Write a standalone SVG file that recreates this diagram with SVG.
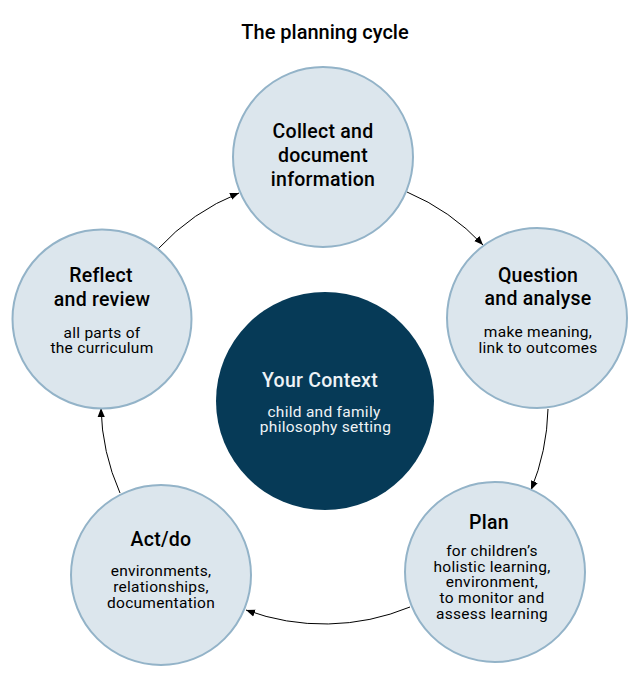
<svg xmlns="http://www.w3.org/2000/svg" width="641" height="696" viewBox="0 0 641 696">
<defs>
<marker id="arr" viewBox="0 0 10 10" refX="10" refY="5" markerWidth="9" markerHeight="9" markerUnits="userSpaceOnUse" orient="auto">
<path d="M0,1 L10,5 L0,9 z" fill="#000"/>
</marker>
</defs>
<style>
.n{fill:#dce6ed;stroke:#93b3c8;stroke-width:2}
.c{fill:#063a57}
.h{font-family:Roboto,"Liberation Sans",sans-serif;font-weight:500;font-size:19.5px;letter-spacing:0.25px;fill:#000;text-anchor:middle}
.s{font-family:Roboto,"Liberation Sans",sans-serif;font-weight:400;font-size:15.5px;letter-spacing:0.28px;fill:#000;text-anchor:middle}
.w{fill:#eef3f6}
.t{font-family:Roboto,"Liberation Sans",sans-serif;font-weight:500;font-size:20px;fill:#000;text-anchor:middle}
.e{fill:none;stroke:#000;stroke-width:1;marker-end:url(#arr)}
</style>
<rect width="641" height="696" fill="#fff"/>
<text class="t" x="325" y="39">The planning cycle</text>
<g id="connectors">
<path class="e" d="M407,192 A224,224 0 0 1 483,245"/>
<path class="e" d="M548,409 A228,228 0 0 1 531,490"/>
<path class="e" d="M410,607 A225,225 0 0 1 246,610"/>
<path class="e" d="M120,493 A223,223 0 0 1 101,408"/>
<path class="e" d="M158,249 A224,224 0 0 1 239,193"/>
</g>
<g id="collect">
<circle class="n" cx="323" cy="157" r="90"/>
<text class="h" x="323" y="138">Collect and</text>
<text class="h" x="323" y="162">document</text>
<text class="h" x="323" y="186">information</text>
</g>
<g id="question">
<circle class="n" cx="537" cy="318" r="90"/>
<text class="h" x="538" y="281.5">Question</text>
<text class="h" x="538" y="305">and analyse</text>
<text class="s" x="538" y="336.5">make meaning,</text>
<text class="s" x="538" y="352.5">link to outcomes</text>
</g>
<g id="plan">
<circle class="n" cx="495" cy="572" r="90"/>
<text class="h" x="489" y="529">Plan</text>
<text class="s" x="492" y="555.5">for children’s</text>
<text class="s" x="492" y="571.5">holistic learning,</text>
<text class="s" x="492" y="587.3">environment,</text>
<text class="s" x="492" y="603">to monitor and</text>
<text class="s" x="492" y="619">assess learning</text>
</g>
<g id="act">
<circle class="n" cx="161" cy="575" r="90"/>
<text class="h" x="161" y="545.5">Act/do</text>
<text class="s" x="161" y="576">environments,</text>
<text class="s" x="161" y="592">relationships,</text>
<text class="s" x="161" y="607.7">documentation</text>
</g>
<g id="reflect">
<circle class="n" cx="102" cy="319" r="89.5"/>
<text class="h" x="101" y="282.3">Reflect</text>
<text class="h" x="102" y="306">and review</text>
<text class="s" x="102" y="337.7">all parts of</text>
<text class="s" x="102" y="353.3">the curriculum</text>
</g>
<g id="context">
<circle class="c" cx="325" cy="401" r="109"/>
<text class="h w" x="320" y="387.3">Your Context</text>
<text class="s w" x="324" y="416.7">child and family</text>
<text class="s w" x="325.5" y="432.3">philosophy setting</text>
</g>
</svg>
